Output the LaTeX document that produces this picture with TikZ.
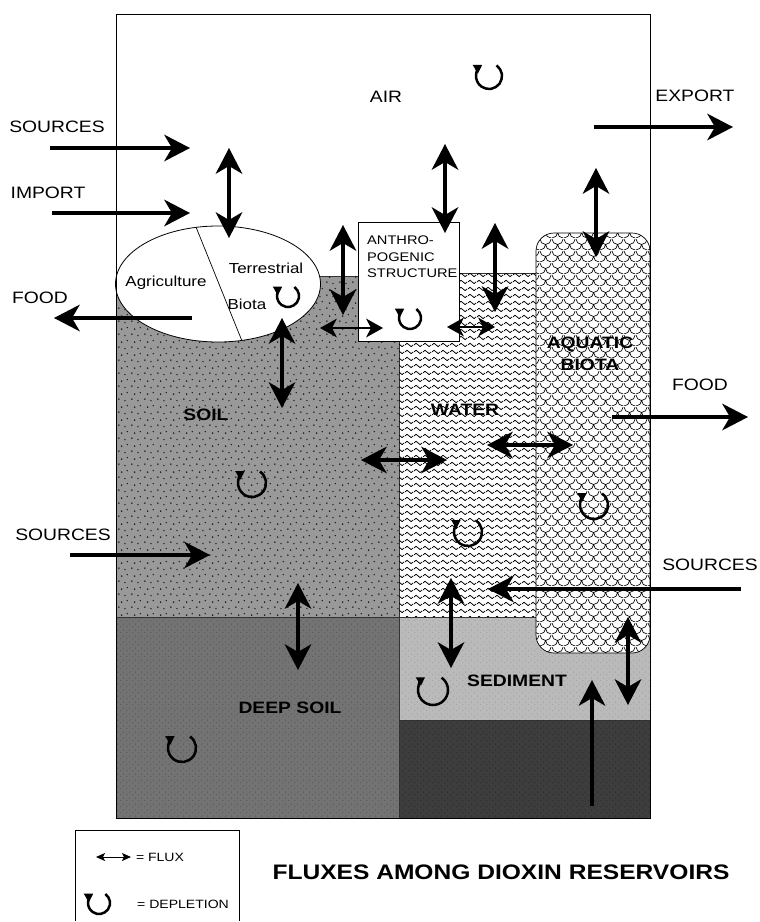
\documentclass[tikz,border=0pt]{standalone}
\usepackage{fontspec}
\setmainfont{Liberation Sans}[FakeStretch=1.17]
\usetikzlibrary{arrows.meta,patterns,shapes.geometric}

\pgfdeclarepatternformonly{soildots}{\pgfpointorigin}{\pgfpoint{13pt}{13pt}}{\pgfpoint{13pt}{13pt}}{%
  \pgfpathcircle{\pgfpoint{2pt}{3pt}}{0.95pt}%
  \pgfpathcircle{\pgfpoint{8.5pt}{1.5pt}}{0.8pt}%
  \pgfpathcircle{\pgfpoint{5pt}{8.5pt}}{0.95pt}%
  \pgfpathcircle{\pgfpoint{11pt}{10pt}}{0.8pt}%
  \pgfusepath{fill}}

\pgfdeclarepatternformonly{finedots}{\pgfpointorigin}{\pgfpoint{6pt}{6pt}}{\pgfpoint{6pt}{6pt}}{%
  \pgfpathcircle{\pgfpoint{1pt}{1.5pt}}{0.6pt}%
  \pgfpathcircle{\pgfpoint{4pt}{4.5pt}}{0.6pt}%
  \pgfusepath{fill}}

\pgfdeclarepatternformonly{wavy}{\pgfpointorigin}{\pgfpoint{9pt}{7pt}}{\pgfpoint{9pt}{7pt}}{%
  \pgfsetlinewidth{0.85pt}%
  \pgfpathmoveto{\pgfpoint{0pt}{3.5pt}}%
  \pgfpathcurveto{\pgfpoint{1.2pt}{6pt}}{\pgfpoint{3.3pt}{6pt}}{\pgfpoint{4.5pt}{3.5pt}}%
  \pgfpathcurveto{\pgfpoint{5.7pt}{1pt}}{\pgfpoint{7.8pt}{1pt}}{\pgfpoint{9pt}{3.5pt}}%
  \pgfusepath{stroke}}

\pgfdeclarepatternformonly{scales}{\pgfpointorigin}{\pgfpoint{12pt}{12pt}}{\pgfpoint{12pt}{12pt}}{%
  \pgfsetlinewidth{0.7pt}%
  \pgfpathmoveto{\pgfpoint{0pt}{12pt}}\pgfpatharc{180}{360}{6pt}%
  \pgfpathmoveto{\pgfpoint{0pt}{0pt}}\pgfpatharc{270}{360}{6pt}%
  \pgfpathmoveto{\pgfpoint{6pt}{6pt}}\pgfpatharc{180}{270}{6pt}%
  \pgfusepath{stroke}}

\newcommand{\depl}[3]{\draw[deplarrow] (#1,#2) ++(-55:#3) arc[start angle=-55, end angle=238, radius=#3];}

\tikzset{
  lab/.style={font=\fontsize{16.5}{19}\selectfont, inner sep=0pt},
  blab/.style={font=\fontsize{16.5}{22}\selectfont\bfseries, inner sep=0pt, align=center},
  elab/.style={font=\fontsize{14.5}{16}\selectfont, inner sep=0pt},
  slab/.style={font=\fontsize{12}{14}\selectfont, inner sep=0pt},
  flux/.style={line width=4pt, >={Stealth[length=26pt,width=27pt,inset=8pt,line width=0pt]}, <->},
  oneway/.style={line width=4pt, >={Stealth[length=26pt,width=27pt,inset=8pt,line width=0pt]}, ->},
  fluxm/.style={line width=2.6pt, >={Stealth[length=17pt,width=19pt,inset=5pt,line width=0pt]}, <->},
  deplarrow/.style={line width=2.5pt, -{Triangle[length=8pt,width=10pt,line width=0pt]}},
  edge/.style={draw=black!80, line width=0.5pt},
}

\begin{document}
\begin{tikzpicture}[x=1pt,y=-1pt]
\useasboundingbox (0,0) rectangle (760,922);

% ---- reservoirs ----
\path[edge, fill=black!40] (116,276) rectangle (399,617);
\path[pattern=soildots, pattern color=black!90] (116,276) rectangle (399,617);
\path[edge, fill=white] (399,273) rectangle (538,617);
\path[pattern=wavy] (399,273) rectangle (538,617);
\path[edge, fill=black!27] (399,617) rectangle (650,720);
\path[pattern=finedots, pattern color=black!42] (399,617) rectangle (650,720);
\path[edge, fill=black!55] (116,617) rectangle (399,818);
\path[pattern=finedots, pattern color=black!72] (116,617) rectangle (399,818);
\path[edge, fill=black!76] (399,720) rectangle (650,818);
\path[pattern=finedots, pattern color=black!88] (399,720) rectangle (650,818);
\path[fill=white] (536,233) [rounded corners=18pt] rectangle (650,653);
\path[pattern=scales, draw=black, line width=0.7pt] (536,233) [rounded corners=18pt] rectangle (650,653);

\node (ell) [ellipse, draw, fill=white, line width=0.8pt, minimum width=205pt, minimum height=116pt, inner sep=0pt] at (218,284) {};
\draw[line width=0.7pt] (196,227) coordinate (dv1) -- (242,341) coordinate (dv2);
\node (anthro) [rectangle, draw, fill=white, line width=0.8pt, minimum width=101pt, minimum height=119pt, inner sep=0pt] at (408.5,281.5) {};

\draw[line width=0.8pt] (116,14) rectangle (650,818);

% ---- labels ----
\node[lab] (lair) at (386,97) {AIR};
\node[lab] (lsrc1) at (57,127) {SOURCES};
\node[lab] (limp) at (48,193) {IMPORT};
\node[lab] (lfood1) at (40,298) {FOOD};
\node[lab] (lexp) at (695,96) {EXPORT};
\node[lab] (lfood2) at (700,385) {FOOD};
\node[lab] (lsrc2) at (63,535) {SOURCES};
\node[lab] (lsrc3) at (710,565) {SOURCES};

\node[elab] (lagri) at (166,283) {Agriculture};
\node[elab] (lterr) at (266,268) {Terrestrial};
\node[elab] (lbiota) at (247,304) {Biota};
\node[font=\fontsize{12.5}{16.5}\selectfont, inner sep=0pt, align=left, anchor=west] (lanthro) at (367,257) {ANTHRO-\\POGENIC\\STRUCTURE};

\node[blab] (lsoil) at (206,415) {SOIL};
\node[blab] (lwater) at (465,410) {WATER};
\node[blab] (laqua) at (590,354) {AQUATIC\\BIOTA};
\node[blab] (lsed) at (517,681) {SEDIMENT};
\node[blab] (ldeep) at (290,708) {DEEP SOIL};

% ---- depletion ----
\depl{489}{76}{13}
\depl{288}{296}{11}
\depl{410}{318}{11}
\depl{252}{483}{14}
\depl{468}{532}{14}
\depl{594}{505}{14}
\depl{433}{690}{15}
\depl{182}{748}{14}

% ---- external flows ----
\draw[oneway] (50,148) coordinate (s1a) -- (190,148) coordinate (s1b);
\draw[oneway] (52,213) coordinate (s2a) -- (190,213) coordinate (s2b);
\draw[oneway] (192,318) coordinate (f1a) -- (54,318) coordinate (f1b);
\draw[oneway] (594,127) coordinate (e1a) -- (733,127) coordinate (e1b);
\draw[oneway] (612,417) coordinate (f2a) -- (748,417) coordinate (f2b);
\draw[oneway] (70,555) coordinate (s3a) -- (210,555) coordinate (s3b);
\draw[oneway] (741,589) coordinate (s4a) -- (488,589) coordinate (s4b);
\draw[oneway] (592,806) coordinate (u1a) -- (592,680) coordinate (u1b);

% ---- internal fluxes ----
\draw[flux] (229,148) coordinate (x1a) -- (229,238) coordinate (x1b);
\draw[flux] (445,144) coordinate (x2a) -- (445,233) coordinate (x2b);
\draw[flux] (596,168) coordinate (x3a) -- (596,257) coordinate (x3b);
\draw[flux] (343,225) coordinate (x4a) -- (343,315) coordinate (x4b);
\draw[flux] (495,223) coordinate (x5a) -- (495,312) coordinate (x5b);
\draw[fluxm] (320,328) coordinate (x6a) -- (383,328) coordinate (x6b);
\draw[fluxm] (447,327) coordinate (x7a) -- (495,327) coordinate (x7b);
\draw[flux] (282,318) coordinate (x8a) -- (282,408) coordinate (x8b);
\draw[flux] (361,460) coordinate (x9a) -- (447,460) coordinate (x9b);
\draw[flux] (487,445) coordinate (x10a) -- (573,445) coordinate (x10b);
\draw[flux] (298,583) coordinate (x11a) -- (298,670) coordinate (x11b);
\draw[flux] (451,578) coordinate (x12a) -- (451,668) coordinate (x12b);
\draw[flux] (628,617) coordinate (x13a) -- (628,705) coordinate (x13b);

% ---- legend ----
\draw[line width=0.6pt] (75,921) coordinate (lg1) -- (75,830) coordinate (lg2) -- (239,830) coordinate (lg3) -- (239,921) coordinate (lg4);
\draw[line width=1pt, >={Stealth[length=9pt,width=8pt,inset=2pt]}, <->] (96,857) coordinate (la) -- (131,857) coordinate (lb);
\node[slab] (lflux) at (160,857) {= FLUX};
\depl{99}{903}{11}
\node[slab] (ldepl) at (183,904) {= DEPLETION};
\node[font=\fontsize{21}{24}\selectfont\bfseries, inner sep=0pt] (ltitle) at (501,872) {FLUXES AMONG DIOXIN RESERVOIRS};
\end{tikzpicture}
\end{document}
